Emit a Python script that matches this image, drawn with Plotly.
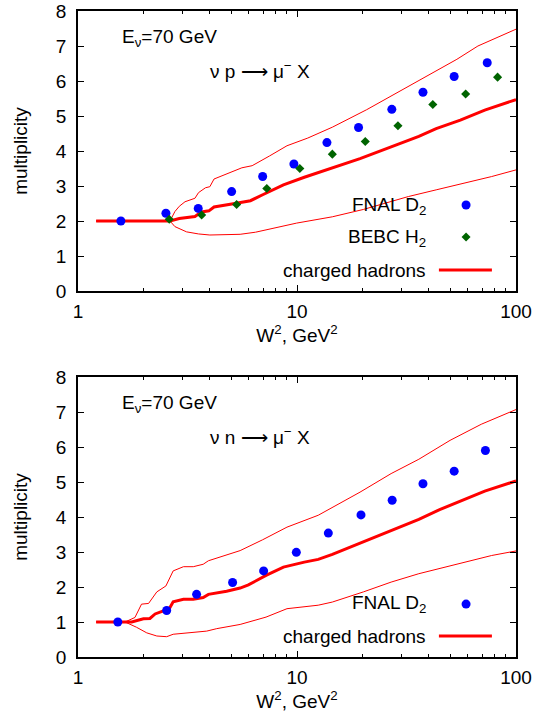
import plotly.graph_objects as go
from plotly.subplots import make_subplots

# ---------------- data: top panel (nu p) ----------------
p_fnal_w2 = [1.57, 2.52, 3.54, 5.03, 6.97, 9.68, 13.7, 19.1, 27.1, 37.6, 52.2, 73.9]
p_fnal_n = [2.00, 2.22, 2.36, 2.84, 3.27, 3.63, 4.24, 4.67, 5.19, 5.68, 6.13, 6.52]

p_bebc_w2 = [2.61, 3.67, 5.3, 7.28, 10.3, 14.5, 20.5, 28.9, 41.7, 58.9, 82.4]
p_bebc_n = [2.05, 2.17, 2.47, 2.93, 3.50, 3.91, 4.27, 4.72, 5.33, 5.63, 6.11]

p_mid_w2 = [1.21, 2.63, 2.90, 3.42, 3.55, 3.67, 3.96, 4.18, 5.20, 6.13, 6.97, 8.67,
            10.8, 14.5, 19.4, 26.9, 36.0, 43.2, 55.7, 72.0, 100]
p_mid_n = [2.00, 2.00, 2.07, 2.13, 2.20, 2.26, 2.29, 2.40, 2.50, 2.58, 2.75, 3.03,
           3.25, 3.51, 3.78, 4.12, 4.42, 4.64, 4.88, 5.17, 5.47]

p_up_w2 = [1.21, 2.63, 2.77, 2.90, 3.08, 3.42, 3.55, 3.82, 4.00, 4.18, 5.60, 6.24,
           7.50, 9.0, 11.2, 14.5, 20.8, 36.0, 53.7, 67.0, 80.0, 100]
p_up_n = [2.00, 2.00, 2.27, 2.42, 2.55, 2.65, 2.81, 2.95, 2.98, 3.20, 3.52, 3.58,
          3.86, 4.15, 4.37, 4.68, 5.18, 6.00, 6.62, 7.00, 7.22, 7.48]

p_lo_w2 = [1.21, 2.63, 2.77, 3.13, 3.55, 4.0, 5.5, 6.47, 9.96, 14.5, 20.1, 32.3,
           43.2, 53.7, 77.4, 100]
p_lo_n = [2.00, 2.00, 1.84, 1.69, 1.63, 1.60, 1.62, 1.68, 1.94, 2.12, 2.33, 2.70,
          2.89, 3.03, 3.27, 3.46]

# ---------------- data: bottom panel (nu n) ----------------
n_fnal_w2 = [1.52, 2.54, 3.48, 5.08, 7.04, 9.93, 13.9, 19.6, 27.2, 37.6, 52.2, 72.5]
n_fnal_n = [1.00, 1.33, 1.79, 2.13, 2.46, 2.99, 3.54, 4.06, 4.48, 4.95, 5.31, 5.90]

n_mid_w2 = [1.21, 1.76, 1.99, 2.13, 2.25, 2.46, 2.61, 2.72, 3.03, 3.36, 3.73, 3.94,
            4.77, 5.5, 6.0, 7.22, 8.67, 10.8, 12.5, 14.5, 20.1, 26.9, 36.0, 44.8,
            55.7, 72.0, 100]
n_mid_n = [1.00, 1.00, 1.09, 1.10, 1.23, 1.31, 1.38, 1.58, 1.65, 1.65, 1.70, 1.79,
           1.88, 1.97, 2.06, 2.33, 2.57, 2.71, 2.79, 2.93, 3.29, 3.59, 3.93, 4.21,
           4.46, 4.74, 5.03]

n_up_w2 = [1.21, 1.64, 1.82, 1.95, 2.10, 2.29, 2.52, 2.72, 3.03, 3.36, 3.73, 3.94,
           5.5, 6.97, 9.0, 12.5, 19.4, 26.9, 36.0, 50.0, 69.4, 83.3, 100]
n_up_n = [1.00, 1.00, 1.13, 1.51, 1.53, 1.86, 2.03, 2.46, 2.58, 2.58, 2.65, 2.75,
          3.04, 3.35, 3.71, 4.05, 4.71, 5.24, 5.65, 6.19, 6.65, 6.86, 7.07]

n_lo_w2 = [1.21, 1.64, 1.85, 2.06, 2.29, 2.54, 2.72, 3.13, 3.87, 4.30, 5.5, 7.22,
           9.0, 12.5, 14.5, 20.1, 26.9, 36.0, 46.5, 55.7, 77.4, 100]
n_lo_n = [1.00, 1.00, 0.85, 0.69, 0.60, 0.58, 0.65, 0.69, 0.74, 0.81, 0.93, 1.14,
          1.38, 1.48, 1.57, 1.86, 2.14, 2.38, 2.55, 2.69, 2.90, 3.03]

y_ticks = [0, 1, 2, 3, 4, 5, 6, 7, 8]
x_ticks = [1, 10, 100]
x_tick_text = ["1", "10", "100"]

RED = "#ff0000"
BLUE = "#0000ff"
GREEN = "#006400"
FONT = "Liberation Sans, Arial, sans-serif"
FS = 19

W, H = 543, 719
ML, MR, MT, MB = 78, 27, 11, 62

fig = make_subplots(rows=2, cols=1, vertical_spacing=86 / (H - MT - MB))

def add_panel(row, up_x, up_y, lo_x, lo_y, mid_x, mid_y):
    fig.add_trace(go.Scatter(x=up_x, y=up_y, mode="lines",
                             line=dict(color=RED, width=1), showlegend=False,
                             hoverinfo="skip"), row=row, col=1)
    fig.add_trace(go.Scatter(x=lo_x, y=lo_y, mode="lines",
                             line=dict(color=RED, width=1), showlegend=False,
                             hoverinfo="skip"), row=row, col=1)
    fig.add_trace(go.Scatter(x=mid_x, y=mid_y, mode="lines",
                             line=dict(color=RED, width=3), showlegend=False),
                  row=row, col=1)

add_panel(1, p_up_w2, p_up_n, p_lo_w2, p_lo_n, p_mid_w2, p_mid_n)
fig.add_trace(go.Scatter(x=p_fnal_w2, y=p_fnal_n, mode="markers",
                         marker=dict(color=BLUE, size=9, symbol="circle"),
                         showlegend=False), row=1, col=1)
fig.add_trace(go.Scatter(x=p_bebc_w2, y=p_bebc_n, mode="markers",
                         marker=dict(color=GREEN, size=7, symbol="diamond"),
                         showlegend=False), row=1, col=1)

add_panel(2, n_up_w2, n_up_n, n_lo_w2, n_lo_n, n_mid_w2, n_mid_n)
fig.add_trace(go.Scatter(x=n_fnal_w2, y=n_fnal_n, mode="markers",
                         marker=dict(color=BLUE, size=9, symbol="circle"),
                         showlegend=False), row=2, col=1)

axis_common = dict(showline=True, linecolor="black", linewidth=1.5, mirror="ticks",
                   ticks="inside", tickcolor="black", tickwidth=1, showgrid=False,
                   zeroline=False, automargin=False,
                   tickfont=dict(family=FONT, size=FS, color="black"))

for r in (1, 2):
    fig.update_xaxes(type="log", range=[0, 2], tickvals=x_ticks, ticktext=x_tick_text,
                     ticklen=6,
                     minor=dict(ticks="inside", ticklen=3, tickcolor="black",
                                dtick="D1", showgrid=False),
                     title=dict(text="W<sup>2</sup>, GeV<sup>2</sup>",
                                font=dict(family=FONT, size=FS, color="black"),
                                standoff=8),
                     ticklabelstandoff=2,
                     row=r, col=1, **axis_common)
    fig.update_yaxes(range=[0, 8], tickvals=y_ticks, ticklen=6,
                     title=dict(text="multiplicity",
                                font=dict(family=FONT, size=FS, color="black"),
                                standoff=23),
                     ticklabelstandoff=6,
                     row=r, col=1, **axis_common)

annots = []
def txt(xref, yref, x, y, text, xanchor="left"):
    annots.append(dict(xref=xref, yref=yref, x=x, y=y, text=text, showarrow=False,
                       xanchor=xanchor, yanchor="middle",
                       font=dict(family=FONT, size=FS, color="black")))

for xa, ya, react in (("x domain", "y domain", "ν p ⟶ μ<sup>−</sup> X"),
                      ("x2 domain", "y2 domain", "ν n ⟶ μ<sup>−</sup> X")):
    txt(xa, ya, 0.097, 0.905, "E<sub>ν</sub>=70 GeV")
    txt(xa, ya, 0.415, 0.79, react, xanchor="center")

# legend texts (right aligned), keys drawn as shapes
txt("x domain", "y domain", 0.80, 0.305, "FNAL D<sub>2</sub>", xanchor="right")
txt("x domain", "y domain", 0.80, 0.19, "BEBC H<sub>2</sub>", xanchor="right")
txt("x domain", "y domain", 0.80, 0.075, "charged hadrons", xanchor="right")
txt("x2 domain", "y2 domain", 0.80, 0.19, "FNAL D<sub>2</sub>", xanchor="right")
txt("x2 domain", "y2 domain", 0.80, 0.075, "charged hadrons", xanchor="right")

shapes = []
def key_circle(xr, yr, yy):
    shapes.append(dict(type="circle", xref=xr, yref=yr, xsizemode="pixel",
                       ysizemode="pixel", xanchor=0.886, yanchor=yy,
                       x0=-4.5, x1=4.5, y0=-4.5, y1=4.5,
                       fillcolor=BLUE, line=dict(width=0)))
def key_line(xr, yr, yy):
    shapes.append(dict(type="line", xref=xr, yref=yr, x0=0.824, x1=0.945,
                       y0=yy, y1=yy, line=dict(color=RED, width=3)))

key_circle("x domain", "y domain", 0.307)
shapes.append(dict(type="path", xref="x domain", yref="y domain", xsizemode="pixel",
                   ysizemode="pixel", xanchor=0.886, yanchor=0.193,
                   path="M 0 4.5 L 4.5 0 L 0 -4.5 L -4.5 0 Z",
                   fillcolor=GREEN, line=dict(width=0)))
key_line("x domain", "y domain", 0.075)
key_circle("x2 domain", "y2 domain", 0.189)
key_line("x2 domain", "y2 domain", 0.075)

fig.update_layout(width=W, height=H, margin=dict(l=ML, r=MR, t=MT, b=MB),
                  plot_bgcolor="white", paper_bgcolor="white",
                  annotations=annots, shapes=shapes, showlegend=False,
                  font=dict(family=FONT, size=FS, color="black"))

# remove the browser's default 8 px body margin so the figure sits at the page origin
fig.write_html("out.html", config={"displayModeBar": False},
               post_script="document.body.style.margin='0px';")
